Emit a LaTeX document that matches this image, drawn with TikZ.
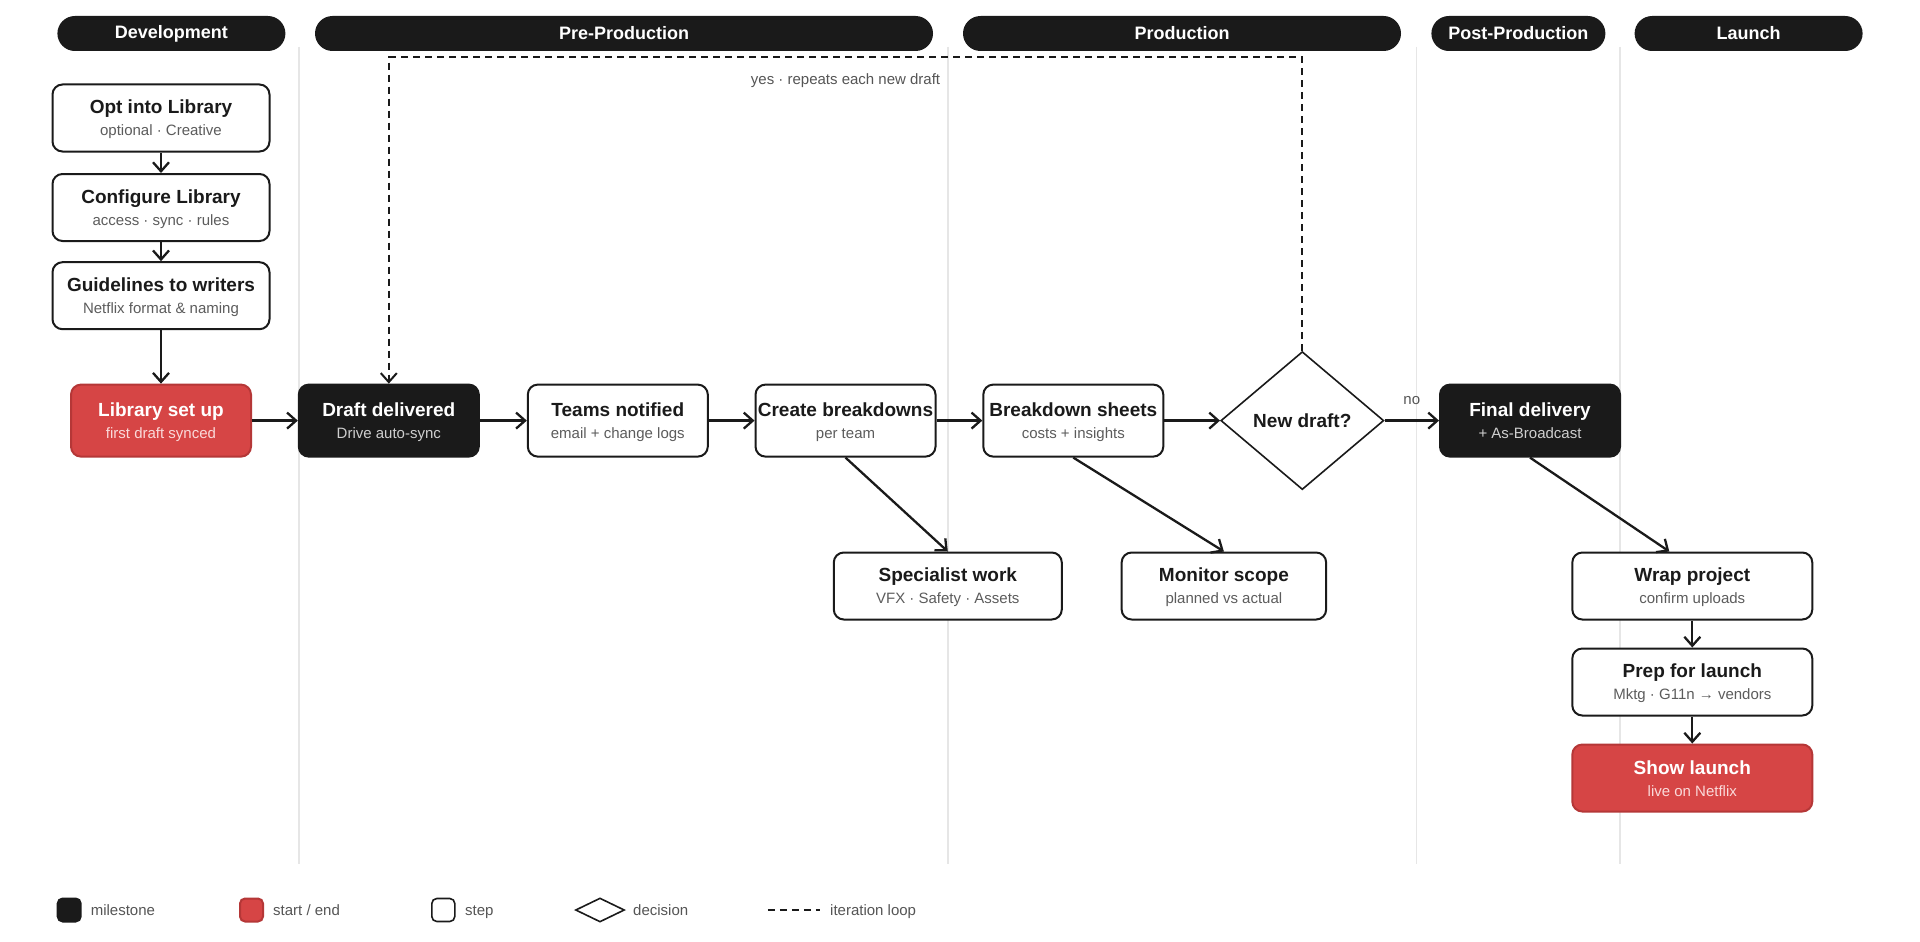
\documentclass[tikz,border=0pt]{standalone}
\usepackage{fontspec}
\setmainfont{Liberation Sans}
\usetikzlibrary{arrows.meta,shapes.geometric}
\definecolor{ink}{HTML}{1A1A1A}
\definecolor{redf}{HTML}{D64545}
\definecolor{redd}{HTML}{B53737}
\definecolor{subg}{HTML}{5C5C5C}
\definecolor{subdark}{HTML}{CFCFCF}
\definecolor{subred}{HTML}{FADADA}
\definecolor{lane}{HTML}{E6E6E6}
\definecolor{labg}{HTML}{555555}
\colorlet{subc}{subg}
\newcommand\nt[2]{{\fontsize{19}{22}\selectfont\bfseries\rule{0pt}{17pt}#1}\\{\color{subc}#2\rule[-3pt]{0pt}{3pt}}}
\tikzset{
 box/.style={rounded corners=10pt, line width=2pt, align=center, inner sep=0pt, font=\fontsize{15}{22}\selectfont},
 stepbox/.style={box, draw=ink, fill=white, text=ink, execute at begin node={\colorlet{subc}{subg}}},
 milebox/.style={box, draw=ink, fill=ink, text=white, execute at begin node={\colorlet{subc}{subdark}}},
 startbox/.style={box, draw=redd, fill=redf, text=white, execute at begin node={\colorlet{subc}{subred}}},
 row/.style={minimum width=180pt, minimum height=72pt},
 col/.style={minimum height=67pt},
 arr/.style={draw=ink, line width=2.3pt, -{Straight Barb[length=9pt,width=16pt]}},
 loopline/.style={draw=ink, line width=2pt, dash pattern=on 7pt off 5pt, -{Straight Barb[length=9pt,width=16pt]}},
 lanehead/.style={fill=ink, text=white, rounded corners=17.5pt, minimum height=35pt, inner sep=0pt, font=\fontsize{18}{20}\selectfont\bfseries},
 lanesep/.style={draw=lane, line width=1.5pt},
 legtext/.style={text=labg, anchor=base west, inner sep=0pt, font=\fontsize{15}{18}\selectfont},
 edgelab/.style={text=labg, inner sep=0pt, font=\fontsize{15}{18}\selectfont},
}
\begin{document}
\begin{tikzpicture}[x=1pt,y=-1pt]
\fill[white] (0,0) rectangle (1920,942);
\path[use as bounding box] (0,0) rectangle (1920,942);
% lane separators
\draw[lanesep] (298.8,47) -- (298.8,864);
\draw[lanesep] (947.8,47) -- (947.8,864);
\draw[lanesep] (1416.7,47) -- (1416.7,864);
\draw[lanesep] (1620,47) -- (1620,864);
% headers
\node[lanehead, minimum width=228pt] (hdev) at (171.4,33.5) {Development};
\node[lanehead, minimum width=618pt] (hpre) at (624,33.5) {Pre-Production};
\node[lanehead, minimum width=438pt] (hprod) at (1182,33.5) {Production};
\node[lanehead, minimum width=174pt] (hpost) at (1518.4,33.5) {Post-Production};
\node[lanehead, minimum width=228pt] (hlaunch) at (1748.6,33.5) {Launch};
% development column
\node[stepbox, col, minimum width=217pt] (opt) at (161,118) {\nt{Opt into Library}{optional · Creative}};
\node[stepbox, col, minimum width=217pt] (conf) at (161,207.5) {\nt{Configure Library}{access · sync · rules}};
\node[stepbox, col, minimum width=217pt] (guide) at (161,295.7) {\nt{Guidelines to writers}{Netflix format \& naming}};
% main row
\node[startbox, row] (lib) at (161,420.6) {\nt{Library set up}{first draft synced}};
\node[milebox, row] (draft) at (388.8,420.6) {\nt{Draft delivered}{Drive auto-sync}};
\node[stepbox, row] (teams) at (617.8,420.6) {\nt{Teams notified}{email + change logs}};
\node[stepbox, row] (create) at (845.5,420.6) {\nt{Create breakdowns}{per team}};
\node[stepbox, row] (sheets) at (1073.3,420.6) {\nt{Breakdown sheets}{costs + insights}};
\node[draw=ink, fill=white, diamond, line width=1.6pt, minimum width=163pt, minimum height=138pt, inner sep=0pt, aspect=1.18, font=\fontsize{19}{22}\selectfont\bfseries, text=ink] (dec) at (1302.3,420.6) {New draft?};
\node[milebox, row] (final) at (1530,420.6) {\nt{Final delivery}{+ As-Broadcast}};
% lower row
\node[stepbox, col, minimum width=228pt] (spec) at (947.8,586) {\nt{Specialist work}{VFX · Safety · Assets}};
\node[stepbox, col, minimum width=204.5pt] (mon) at (1223.9,586) {\nt{Monitor scope}{planned vs actual}};
\node[stepbox, col, minimum width=240pt] (wrap) at (1692.3,586) {\nt{Wrap project}{confirm uploads}};
\node[stepbox, col, minimum width=240pt] (prep) at (1692.3,682) {\nt{Prep for launch}{Mktg · G11n → vendors}};
\node[startbox, col, minimum width=240pt] (show) at (1692.3,778) {\nt{Show launch}{live on Netflix}};
% connectors
\draw[arr] (opt.south) -- (conf.north);
\draw[arr] (conf.south) -- (guide.north);
\draw[arr] (guide.south) -- (lib.north);
\draw[arr] (lib.east) -- (draft.west);
\draw[arr] (draft.east) -- (teams.west);
\draw[arr] (teams.east) -- (create.west);
\draw[arr] (create.east) -- (sheets.west);
\draw[arr] (sheets.east) -- (dec.west);
\draw[arr] (dec.east) -- node[edgelab, above=15pt] (nolab) {no} (final.west);
\draw[arr] (create.south) -- (spec.north);
\draw[arr] (sheets.south) -- (mon.north);
\draw[arr] (final.south) -- ([xshift=-23pt]wrap.north);
\draw[arr] (wrap.south) -- (prep.north);
\draw[arr] (prep.south) -- (show.north);
% iteration loop
\coordinate (looptop) at (0,57.5);
\draw[loopline] (dec.north) -- (dec.north |- looptop) -| node[edgelab, pos=0.25, below=15pt] (yeslab) {yes · repeats each new draft} (draft.north);
% legend
\node[milebox, minimum width=23pt, minimum height=23pt, rounded corners=5pt] (lm) at (69.2,910) {};
\node[legtext] (lmt) at (90.6,915.5) {milestone};
\node[startbox, minimum width=23pt, minimum height=23pt, rounded corners=5pt] (ls) at (251.5,910) {};
\node[legtext] (lst) at (273,915.5) {start / end};
\node[stepbox, line width=1.6pt, minimum width=23pt, minimum height=23pt, rounded corners=5pt] (lp) at (443.3,910) {};
\node[legtext] (lpt) at (465,915.5) {step};
\node[draw=ink, fill=white, diamond, line width=1.6pt, minimum width=49pt, minimum height=24pt, inner sep=0pt] (ld) at (600,910) {};
\node[legtext] (ldt) at (633,915.5) {decision};
\coordinate (dl1) at (767.8,910);
\coordinate (dl2) at (820.4,910);
\draw[draw=ink, line width=2pt, dash pattern=on 7pt off 5pt] (dl1) -- (dl2);
\node[legtext] (ldlt) at (830,915.5) {iteration loop};
\end{tikzpicture}
\end{document}
